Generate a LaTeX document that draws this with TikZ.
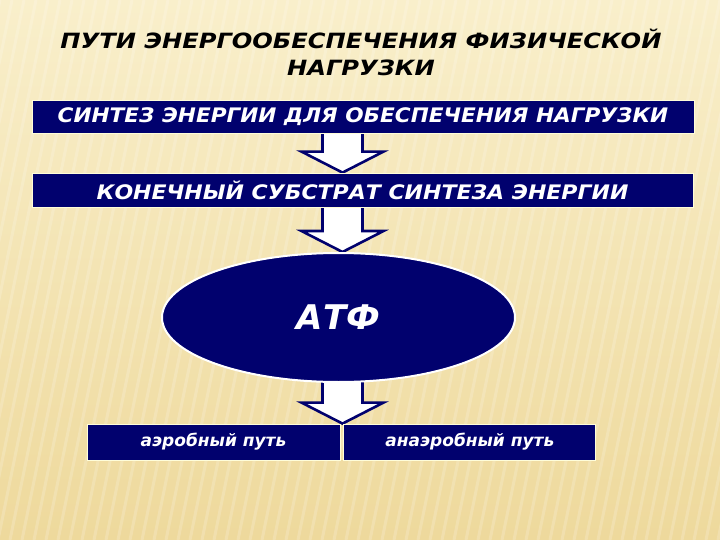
\documentclass[tikz,border=0pt]{standalone}
\usepackage{fontspec}
\setmainfont{DejaVu Sans}
\usepackage{tikz}
\usetikzlibrary{positioning,calc,shapes.geometric,backgrounds}
\definecolor{navy}{RGB}{1,1,110}
\definecolor{sandtop}{RGB}{249,239,203}
\definecolor{sandbot}{RGB}{238,217,156}

\tikzset{
  bar/.style = {rectangle, fill=navy, draw=white!85!yellow, line width=0.8pt, inner sep=0pt,
                text=white, font=\bfseries\itshape\fontsize{20}{20}\selectfont},
  way/.style = {bar, minimum height=36pt, font=\bfseries\itshape\fontsize{17}{17}\selectfont},
  blockarrow/.style = {fill=white, draw=navy, line width=2.6pt, line join=miter}
}

\begin{document}
\begin{tikzpicture}[x=1pt, y=-1pt]
\useasboundingbox (0,0) rectangle (720,540);

% title
\node[font=\bfseries\itshape\fontsize{21}{27}\selectfont, align=center] (title) at (361,52.5)
  {\scalebox{1.15}[1]{ПУТИ ЭНЕРГООБЕСПЕЧЕНИЯ ФИЗИЧЕСКОЙ}\\ \scalebox{1.15}[1]{НАГРУЗКИ}};

% chain
\node[bar, minimum width=662pt, minimum height=33pt] (synth) at (363,116.5)
  {\scalebox{1.08}[1]{СИНТЕЗ ЭНЕРГИИ ДЛЯ ОБЕСПЕЧЕНИЯ НАГРУЗКИ}};
\node[bar, minimum width=661pt, minimum height=34pt] (subst) at (362.5,190)
  {\scalebox{1.1}[1]{КОНЕЧНЫЙ СУБСТРАТ СИНТЕЗА ЭНЕРГИИ}};
\node[ellipse, fill=navy, draw=white, line width=2pt, minimum width=353pt, minimum height=129pt,
      text=white, font=\bfseries\itshape\fontsize{34}{34}\selectfont] (atf) at (338.5,317.5) {АТФ};
\node[way, minimum width=253pt] (aer) at (213.5,442) {аэробный путь};
\node[way, minimum width=252pt, right = 3pt of aer] (anaer) {анаэробный путь};

% background and block arrows
\coordinate (axis) at (342.5,0);
\begin{scope}[on background layer]
\shade[top color=sandtop, bottom color=sandbot] (0,0) rectangle (720,540);
\foreach \s in {-120,-108,...,840}
  \draw[white, opacity=0.18, line width=3pt] (\s,0) -- (\s-110,540);
\foreach \from/\to in {synth/subst, subst/atf, atf/aer}
  \draw[blockarrow] ($(axis |- \from.south)+(-20,-3)$) -- ($(axis |- \to.north)+(-20,-21)$)
    -- ($(axis |- \to.north)+(-41,-21)$) -- (axis |- \to.north) -- ($(axis |- \to.north)+(41,-21)$)
    -- ($(axis |- \to.north)+(20,-21)$) -- ($(axis |- \from.south)+(20,-3)$) -- cycle;
\end{scope}
\end{tikzpicture}
\end{document}
